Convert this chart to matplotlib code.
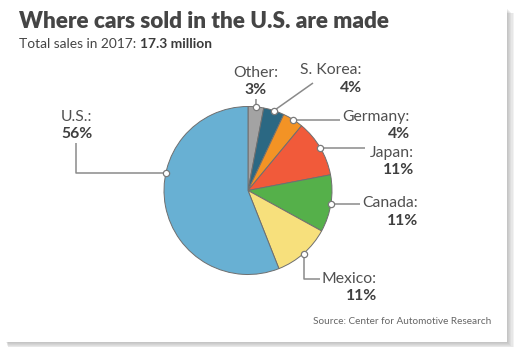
import numpy as np
import matplotlib.pyplot as plt
from matplotlib.patches import Rectangle

# data
labels = ['Other', 'S. Korea', 'Germany', 'Japan', 'Canada', 'Mexico', 'U.S.']
shares = [3, 4, 4, 11, 11, 11, 56]
colors = ['#a3a3a3', '#2b6883', '#f39325', '#f15a3a', '#55b04a', '#f7e07c', '#68b0d3']

W, H = 524, 361
def py(y):
    # pixel rows counted from the top
    return H - y

# layout: pie and label positions in pixels (top-down)
CX, CY, R = 248, 190.5, 84
# text anchor: (x, y first line, y second line, ha)
text_pos = {
    'Other': (256, 73, 90, 'center'),
    'S. Korea': (362, 70, 88, 'right'),
    'Germany': (410, 117, 134, 'right'),
    'Japan': (414, 153, 170, 'right'),
    'Canada': (418, 203, 221, 'right'),
    'Mexico': (377, 279, 296, 'right'),
    'U.S.': (77, 117, 134, 'center'),
}
# leader line end points after the marker
leader_pts = {
    'Other': [(256, 99)],
    'S. Korea': [(313, 83)],
    'Germany': [(340, None)],
    'Japan': [(365, None)],
    'Canada': [(360, None)],
    'Mexico': [(None, 279), (320, 279)],
    'U.S.': [(76, None), (76, 143)],
}
angle_override = {'U.S.': 168}

plt.rcParams['font.family'] = ['Lato', 'DejaVu Sans']

fig = plt.figure(figsize=(W / 100, H / 100), dpi=100)
fig.patch.set_facecolor('white')
ax = fig.add_axes([0, 0, 1, 1])
ax.set_xlim(0, W)
ax.set_ylim(0, H)
ax.axis('off')

# card with soft shadow
for i in range(7):
    ax.add_patch(Rectangle((6 + i * 0.3, py(342 + i * 0.9)), 501 + i * 0.8, 342 - 8,
                           facecolor='#888888', alpha=0.1, edgecolor='none', zorder=0))
ax.add_patch(Rectangle((0, py(342)), 507, 342, facecolor='white', edgecolor='none', zorder=1))

wedges, _ = ax.pie(shares, colors=colors, startangle=90, counterclock=False,
                   center=(CX, py(CY)), radius=R, frame=True,
                   wedgeprops=dict(edgecolor='#6f6f6f', linewidth=0.7))
for w in wedges:
    w.set_zorder(3)
ax.set_xlim(0, W)
ax.set_ylim(0, H)
ax.axis('off')

# labels with leader lines
for w, lab, val in zip(wedges, labels, shares):
    ang = angle_override.get(lab, (w.theta1 + w.theta2) / 2)
    mx = CX + R * np.cos(np.radians(ang))
    my = py(CY) + R * np.sin(np.radians(ang))
    xs, ys = [mx], [my]
    for px_, py_ in leader_pts[lab]:
        xs.append(xs[-1] if px_ is None else px_)
        ys.append(ys[-1] if py_ is None else py(py_))
    ax.plot(xs, ys, color='#8a8a8a', lw=1.1, zorder=4, solid_capstyle='butt')
    ax.plot(mx, my, 'o', ms=4.5, mfc='white', mec='#7a7a7a', mew=0.9, zorder=5)
    tx, y1, y2, ha = text_pos[lab]
    ax.text(tx, py(y1), lab + ':', ha=ha, va='center', fontsize=11.3,
            color='#505050', zorder=6)
    ax.text(tx, py(y2), f'{val}%', ha=ha, va='center', fontsize=11.3,
            fontweight='bold', color='#3f3f3f', zorder=6)

# titles
ax.text(19, py(21), 'Where cars sold in the U.S. are made', fontsize=16.2,
        fontweight='heavy', color='#454545', va='center', ha='left', zorder=6)
t = ax.text(19, py(44), 'Total sales in 2017: ', fontsize=9.9, color='#454545',
            va='center', ha='left', zorder=6)
ax.annotate('17.3 million', xycoords=t, xy=(1, 0), va='bottom', ha='left',
            fontsize=9.9, fontweight='bold', color='#3a3a3a', zorder=6)

ax.text(491, py(321), 'Source: Center for Automotive Research', fontsize=7.2,
        color='#666666', va='center', ha='right', zorder=6)

fig.savefig('out.png', dpi=100, facecolor='white')
